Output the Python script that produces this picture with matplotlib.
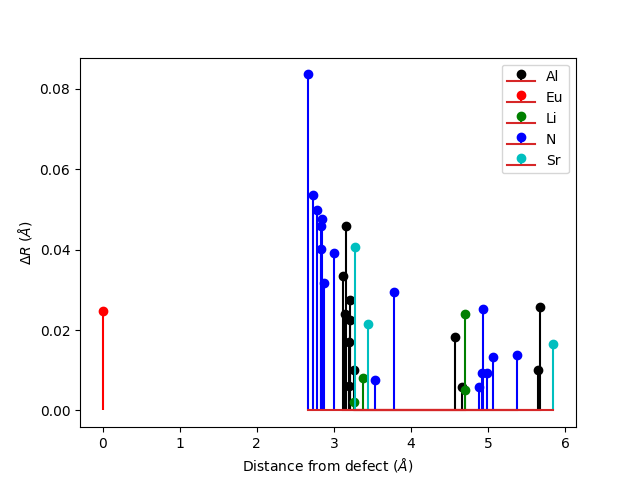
import numpy as np
import matplotlib
matplotlib.use("Agg")
import matplotlib.pyplot as plt

# distance from defect (Angstrom) and displacement for each species
al_dist = [3.12, 3.14, 3.16, 3.19, 3.20, 3.21, 3.21, 3.26, 4.57, 4.66, 5.65, 5.67]
al_dr = [0.0335, 0.0239, 0.0460, 0.0060, 0.0171, 0.0275, 0.0225, 0.0100, 0.0182, 0.0057, 0.0100, 0.0257]

eu_dist = [0.0]
eu_dr = [0.0248]

li_dist = [3.264, 3.377, 4.705, 4.705]
li_dr = [0.0021, 0.0081, 0.0240, 0.0052]

n_dist = [2.666, 2.73, 2.775, 2.83, 2.835, 2.84, 2.866, 3.004, 3.54, 3.78,
          4.887, 4.92, 4.935, 4.99, 5.07, 5.377]
n_dr = [0.0836, 0.0537, 0.0499, 0.0460, 0.0402, 0.0475, 0.0318, 0.0392, 0.0075, 0.0295,
        0.0059, 0.0094, 0.0252, 0.0092, 0.0134, 0.0137]

sr_dist = [3.277, 3.44, 5.848]
sr_dr = [0.0407, 0.0214, 0.0165]

species = ["Al", "Eu", "Li", "N", "Sr"]
colors = ["k", "r", "g", "b", "c"]
data = [(al_dist, al_dr), (eu_dist, eu_dr), (li_dist, li_dr), (n_dist, n_dr), (sr_dist, sr_dr)]

fig, ax = plt.subplots(figsize=(6.4, 4.8), dpi=100)
for name, c, (d, r) in zip(species, colors, data):
    ax.stem(d, r, linefmt=c + "-", markerfmt=c + "o", basefmt="C3-", label=name)

ax.set_xlabel(r"Distance from defect ($\AA$)")
ax.set_ylabel(r"$\Delta R$ ($\AA$)")
ax.legend(loc="upper right")
fig.savefig("out.png")
